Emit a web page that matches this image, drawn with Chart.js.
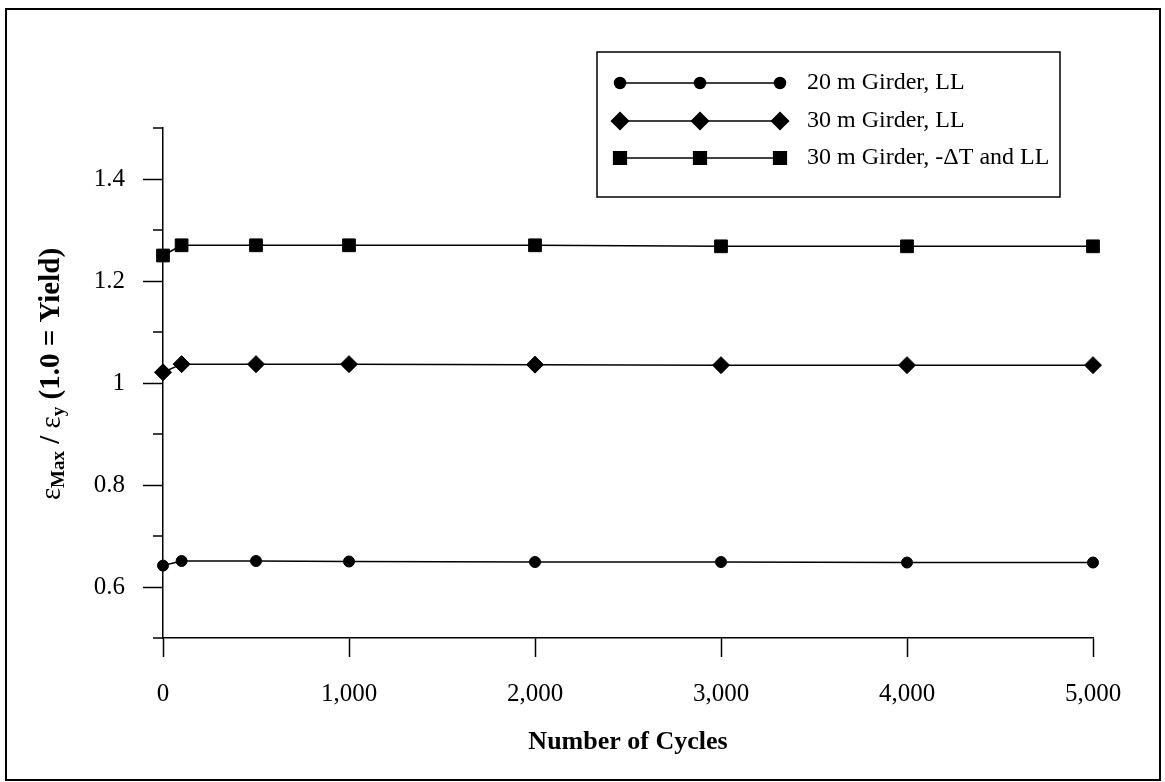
<!DOCTYPE html>
<html>
<head>
<meta charset="utf-8">
<script src="https://cdn.jsdelivr.net/npm/chart.js@4.4.0/dist/chart.umd.min.js"></script>
<style>
  html, body { margin: 0; padding: 0; background: #fff; }
</style>
</head>
<body>
<canvas id="chart" width="1165" height="782"></canvas>
<script>
// Data
const cycles = [0, 100, 500, 1000, 2000, 3000, 4000, 5000];
const girder20LL = [0.642, 0.651, 0.651, 0.650, 0.649, 0.649, 0.648, 0.648];
const girder30LL = [1.021, 1.037, 1.037, 1.037, 1.036, 1.035, 1.035, 1.035];
const girder30TLL = [1.250, 1.270, 1.270, 1.270, 1.270, 1.268, 1.268, 1.268];
const seriesNames = ['20 m Girder, LL', '30 m Girder, LL', '30 m Girder, -\u0394T and LL'];

const xTicks = [0, 1000, 2000, 3000, 4000, 5000];
const yTicks = [0.6, 0.8, 1.0, 1.2, 1.4];
const yMinorTicks = [0.5, 0.7, 0.9, 1.1, 1.3, 1.5];

const FONT = '"Liberation Serif", "Times New Roman", serif';

function toPoints(ys) {
  return cycles.map((c, i) => ({ x: c, y: ys[i] }));
}

function makeSet(label, ys, style, radius) {
  return {
    label: label,
    data: toPoints(ys),
    borderColor: '#000',
    borderWidth: 1.5,
    backgroundColor: '#000',
    pointStyle: style,
    pointRadius: radius,
    pointBackgroundColor: '#000',
    pointBorderColor: '#000',
    pointBorderWidth: 1,
    tension: 0,
    clip: false
  };
}

const datasets = [
  makeSet(seriesNames[0], girder20LL, 'circle', 5.5),
  makeSet(seriesNames[1], girder30LL, 'rectRot', 8.5),
  makeSet(seriesNames[2], girder30TLL, 'rect', 9)
];

// minor ticks, axis title with subscripts, boxed legend and the outer frame
const decor = {
  id: 'decor',
  afterDraw(chart) {
    const ctx = chart.ctx;
    const y = chart.scales.y;
    const left = chart.chartArea.left;

    ctx.save();
    ctx.strokeStyle = '#000';
    ctx.fillStyle = '#000';

    // minor ticks on the y axis
    ctx.lineWidth = 1.5;
    yMinorTicks.forEach(v => {
      const py = y.getPixelForValue(v);
      ctx.beginPath();
      ctx.moveTo(left - 10, py);
      ctx.lineTo(left, py);
      ctx.stroke();
    });

    // outer frame
    ctx.lineWidth = 2;
    ctx.strokeRect(6, 9, 1154, 771);

    // y axis title: eps_Max / eps_y (1.0 = Yield)
    const big = 'bold 29px ' + FONT;
    const small = 'bold 19px ' + FONT;
    const parts = [
      { t: '\u03b5', f: '29px ' + FONT, d: 0 },
      { t: 'Max', f: small, d: 7 },
      { t: ' / ', f: big, d: 0 },
      { t: '\u03b5', f: '29px ' + FONT, d: 0 },
      { t: 'y', f: small, d: 7 },
      { t: ' (1.0 = Yield)', f: big, d: 0 }
    ];
    let total = 0;
    parts.forEach(p => { ctx.font = p.f; p.w = ctx.measureText(p.t).width; total += p.w; });
    ctx.save();
    ctx.translate(52, (chart.chartArea.top + chart.chartArea.bottom) / 2 - 9);
    ctx.rotate(-Math.PI / 2);
    ctx.textBaseline = 'middle';
    ctx.textAlign = 'left';
    let cx = -total / 2;
    parts.forEach(p => {
      ctx.font = p.f;
      ctx.fillText(p.t, cx, p.d);
      cx += p.w;
    });
    ctx.restore();

    // legend box
    const box = { l: 597, t: 52, r: 1060, b: 197 };
    ctx.lineWidth = 1.5;
    ctx.strokeRect(box.l, box.t, box.r - box.l, box.b - box.t);
    const rows = [83, 121, 158];
    const x0 = 620, x1 = 780;
    chart.data.datasets.forEach((ds, i) => {
      const ry = rows[i];
      ctx.lineWidth = 1.5;
      ctx.beginPath();
      ctx.moveTo(x0, ry);
      ctx.lineTo(x1, ry);
      ctx.stroke();
      [x0, (x0 + x1) / 2, x1].forEach(px => {
        Chart.helpers.drawPoint(ctx, {
          pointStyle: ds.pointStyle, radius: ds.pointRadius, rotation: 0, borderWidth: 1
        }, px, ry);
      });
      ctx.font = '24px ' + FONT;
      ctx.textBaseline = 'middle';
      ctx.textAlign = 'left';
      ctx.fillText(ds.label, 807, ry);
    });

    ctx.restore();
  }
};

new Chart(document.getElementById('chart').getContext('2d'), {
  type: 'line',
  data: { datasets: datasets },
  options: {
    responsive: false,
    devicePixelRatio: 1,
    animation: false,
    layout: { padding: { top: 128, right: 72, left: 0, bottom: 0 } },
    plugins: {
      legend: { display: false },
      tooltip: { enabled: false }
    },
    scales: {
      x: {
        type: 'linear',
        min: 0,
        max: 5000,
        afterBuildTicks: s => { s.ticks = xTicks.map(v => ({ value: v })); },
        afterFit: s => { s.height = 144; },
        ticks: {
          color: '#000',
          font: { family: FONT, size: 25 },
          padding: 22,
          maxRotation: 0,
          autoSkip: false,
          callback: v => v.toLocaleString('en-US')
        },
        grid: { drawOnChartArea: false, tickLength: 19, tickWidth: 1.5, tickColor: '#000' },
        border: { color: '#000', width: 1.5 },
        title: {
          display: true,
          text: 'Number of Cycles',
          color: '#000',
          font: { family: FONT, size: 26, weight: 'bold' },
          padding: { top: 0, bottom: 24 }
        }
      },
      y: {
        type: 'linear',
        min: 0.5,
        max: 1.5,
        afterBuildTicks: s => { s.ticks = yTicks.map(v => ({ value: v })); },
        afterFit: s => { s.width = 163; },
        ticks: {
          color: '#000',
          font: { family: FONT, size: 25 },
          padding: 18,
          callback: v => String(Number(v.toFixed(1)))
        },
        grid: { drawOnChartArea: false, tickLength: 20, tickWidth: 1.5, tickColor: '#000' },
        border: { color: '#000', width: 1.5 }
      }
    }
  },
  plugins: [decor]
});
</script>
</body>
</html>
